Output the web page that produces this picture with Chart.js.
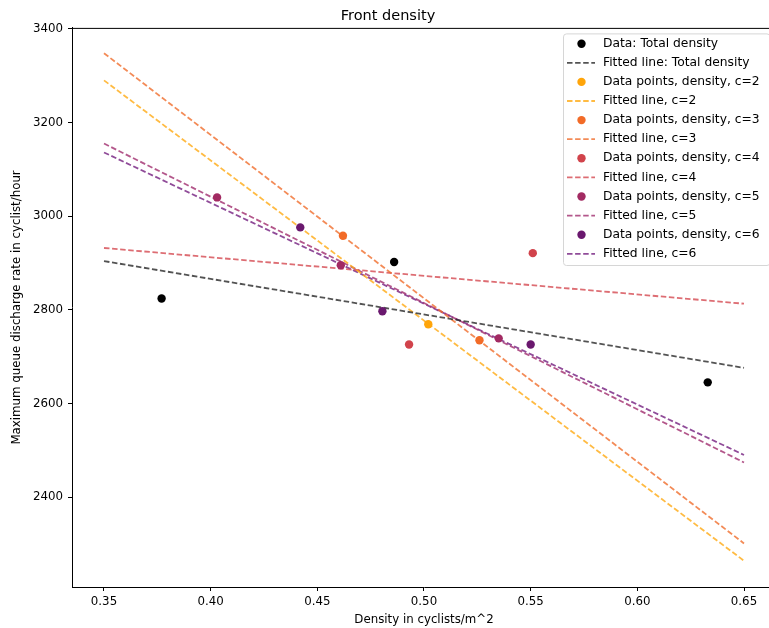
<!DOCTYPE html>
<html>
<head>
<meta charset="utf-8">
<script src="https://cdn.jsdelivr.net/npm/chart.js@4/dist/chart.umd.min.js"></script>
<style>
  html, body { margin: 0; padding: 0; overflow: hidden; background: #fff; }
  canvas { display: block; }
</style>
</head>
<body>
<canvas id="densityChart" width="790" height="628"></canvas>
<script>
// values
const xTicks = [0.35, 0.40, 0.45, 0.50, 0.55, 0.60, 0.65];
const yTicks = [2400, 2600, 2800, 3000, 3200, 3400];
const fitX = [0.35, 0.65];

const totalX = [0.377, 0.486, 0.633];
const totalY = [2824, 2902, 2645];
const totalFit = [2904, 2676];

const c2X = [0.502];
const c2Y = [2769];
const c2Fit = [3290, 2264];

const c3X = [0.462, 0.526];
const c3Y = [2958, 2735];
const c3Fit = [3348, 2301];

const c4X = [0.493, 0.551];
const c4Y = [2726, 2921];
const c4Fit = [2932, 2813];

const c5X = [0.403, 0.461, 0.535];
const c5Y = [3040, 2895, 2739];
const c5Fit = [3155, 2474];

const c6X = [0.442, 0.4805, 0.550];
const c6Y = [2976, 2797, 2726];
const c6Fit = [3136, 2490];

const FONT = "'DejaVu Sans', sans-serif";

function pts(xs, ys) {
    return xs.map((x, i) => ({ x: x, y: ys[i] }));
}

function pointSet(label, xs, ys, color) {
    return {
        label: label,
        kind: 'point',
        data: pts(xs, ys),
        showLine: false,
        pointRadius: 4.2,
        pointBorderWidth: 0,
        backgroundColor: color,
        borderColor: color,
        order: 0
    };
}

function lineSet(label, ys, color) {
    return {
        label: label,
        kind: 'line',
        data: pts(fitX, ys),
        showLine: true,
        pointRadius: 0,
        borderWidth: 1.8,
        borderDash: [5.5, 2.6],
        borderColor: color,
        backgroundColor: color,
        fill: false,
        order: 1
    };
}

const datasets = [
    pointSet('Data: Total density', totalX, totalY, '#000000'),
    lineSet('Fitted line: Total density', totalFit, 'rgba(40,40,40,0.8)'),
    pointSet('Data points, density, c=2', c2X, c2Y, '#ffa50a'),
    lineSet('Fitted line, c=2', c2Fit, 'rgba(255,170,20,0.8)'),
    pointSet('Data points, density, c=3', c3X, c3Y, '#f26b27'),
    lineSet('Fitted line, c=3', c3Fit, 'rgba(240,110,45,0.8)'),
    pointSet('Data points, density, c=4', c4X, c4Y, '#d1434b'),
    lineSet('Fitted line, c=4', c4Fit, 'rgba(212,72,80,0.8)'),
    pointSet('Data points, density, c=5', c5X, c5Y, '#a22a62'),
    lineSet('Fitted line, c=5', c5Fit, 'rgba(160,45,110,0.8)'),
    pointSet('Data points, density, c=6', c6X, c6Y, '#6a186e'),
    lineSet('Fitted line, c=6', c6Fit, 'rgba(125,45,135,0.85)')
];

// top spine + matplotlib-like legend box
const framePlugin = {
    id: 'frame',
    afterDatasetsDraw(chart) {
        const ctx = chart.ctx;
        const area = chart.chartArea;
        ctx.save();
        ctx.strokeStyle = '#000';
        ctx.lineWidth = 1;
        ctx.beginPath();
        ctx.moveTo(area.left, area.top + 0.5);
        ctx.lineTo(area.right, area.top + 0.5);
        ctx.stroke();

        const boxL = 563.5, boxT = area.top + 6, boxR = area.right - 6, boxB = 265.5;
        const r = 3;
        ctx.beginPath();
        ctx.moveTo(boxL + r, boxT);
        ctx.arcTo(boxR, boxT, boxR, boxB, r);
        ctx.arcTo(boxR, boxB, boxL, boxB, r);
        ctx.arcTo(boxL, boxB, boxL, boxT, r);
        ctx.arcTo(boxL, boxT, boxR, boxT, r);
        ctx.closePath();
        ctx.fillStyle = 'rgba(255,255,255,0.85)';
        ctx.fill();
        ctx.strokeStyle = '#d6d6d6';
        ctx.stroke();

        ctx.font = '12.3px ' + FONT;
        ctx.textBaseline = 'middle';
        ctx.textAlign = 'left';
        chart.data.datasets.forEach((ds, i) => {
            const y = 43.7 + i * 19.1;
            if (ds.kind === 'point') {
                ctx.fillStyle = ds.backgroundColor;
                ctx.beginPath();
                ctx.arc(581.5, y, 4.2, 0, Math.PI * 2);
                ctx.fill();
            } else {
                ctx.strokeStyle = ds.borderColor;
                ctx.lineWidth = 1.8;
                ctx.setLineDash(ds.borderDash);
                ctx.beginPath();
                ctx.moveTo(567, y);
                ctx.lineTo(595, y);
                ctx.stroke();
                ctx.setLineDash([]);
            }
            ctx.fillStyle = '#000';
            ctx.fillText(ds.label, 603, y);
        });
        ctx.restore();
    }
};

new Chart(document.getElementById('densityChart'), {
    type: 'scatter',
    data: { datasets: datasets },
    options: {
        responsive: false,
        animation: false,
        events: [],
        layout: { padding: { left: 0, right: 14, top: 0, bottom: 0 } },
        plugins: {
            legend: { display: false },
            tooltip: { enabled: false },
            title: {
                display: true,
                text: 'Front density',
                color: '#000',
                font: { family: FONT, size: 14.5, weight: 'normal' },
                padding: { top: 7.5, bottom: 3 }
            }
        },
        scales: {
            x: {
                type: 'linear',
                min: 0.335,
                max: 0.665,
                afterBuildTicks: axis => { axis.ticks = xTicks.map(v => ({ value: v })); },
                afterFit: axis => { axis.height = 41; },
                grid: { drawOnChartArea: false, drawTicks: true, tickLength: 4, tickColor: '#000' },
                border: { display: true, color: '#000', width: 1 },
                ticks: {
                    color: '#000',
                    padding: 4,
                    maxRotation: 0,
                    font: { family: FONT, size: 11.8 },
                    callback: v => v.toFixed(2)
                },
                title: {
                    display: true,
                    text: 'Density in cyclists/m^2',
                    color: '#000',
                    font: { family: FONT, size: 11.8 },
                    padding: { top: 0, bottom: 1 }
                }
            },
            y: {
                type: 'linear',
                min: 2208,
                max: 3402,
                afterBuildTicks: axis => { axis.ticks = yTicks.map(v => ({ value: v })); },
                afterFit: axis => { axis.width = 72; },
                grid: { drawOnChartArea: false, drawTicks: true, tickLength: 4, tickColor: '#000' },
                border: { display: true, color: '#000', width: 1 },
                ticks: {
                    color: '#000',
                    padding: 5,
                    font: { family: FONT, size: 11.8 },
                    callback: v => String(v)
                },
                title: {
                    display: true,
                    text: 'Maximum queue discharge rate in cyclist/hour',
                    color: '#000',
                    font: { family: FONT, size: 11.8 },
                    padding: { top: 10, bottom: 0 }
                }
            }
        }
    },
    plugins: [framePlugin]
});
</script>
</body>
</html>
